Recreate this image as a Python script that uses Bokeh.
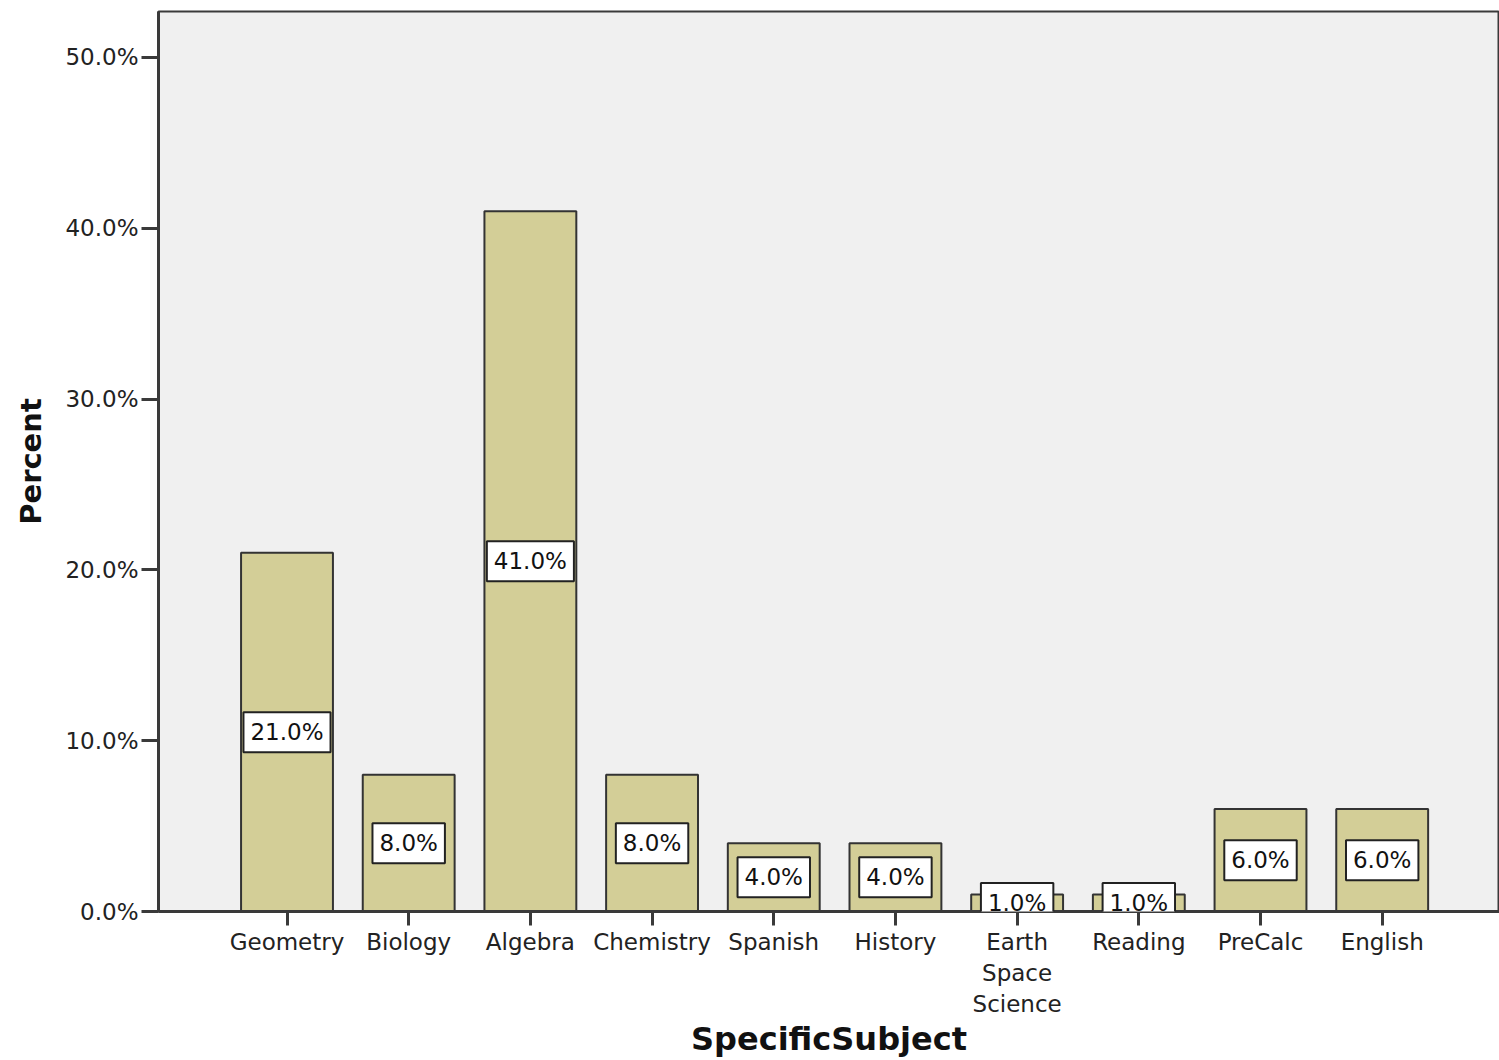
from bokeh.plotting import figure
from bokeh.models import Range1d, FixedTicker, PrintfTickFormatter, Label, ColumnDataSource
from bokeh.embed import file_html
from bokeh.resources import INLINE

subjects = ["Geometry", "Biology", "Algebra", "Chemistry", "Spanish", "History",
            "Earth\nSpace\nScience", "Reading", "PreCalc", "English"]
percents = [21.0, 8.0, 41.0, 8.0, 4.0, 4.0, 1.0, 1.0, 6.0, 6.0]
y_ticks = [0, 10, 20, 30, 40, 50]
x_title = "SpecificSubject"
y_title = "Percent"

xs = list(range(len(subjects)))
src = ColumnDataSource(dict(x=xs, top=percents))

FONT = "DejaVu Sans"
p = figure(width=1499, height=1060, output_backend="svg", toolbar_location=None,
           x_range=Range1d(-1.056, 9.964), y_range=Range1d(0, 52.69),
           min_border_left=158, min_border_right=0, min_border_top=11,
           min_border_bottom=148)
p.background_fill_color = "#F0F0F0"
p.border_fill_color = "white"
p.outline_line_color = "#3A3A3A"
p.outline_line_width = 2
p.grid.visible = False

p.vbar(x="x", top="top", bottom=0, width=0.755, source=src,
       fill_color="#D3CE97", line_color="#333333", line_width=2)

for xi, v in zip(xs, percents):
    p.add_layout(Label(x=xi, y=v / 2, text=f"{v:.1f}%", text_align="center",
                       text_baseline="middle", text_font=FONT, text_font_size="23px",
                       text_color="#111111", background_fill_color="white",
                       border_line_color="#222222", border_line_width=2, padding=7))

# X axis
xa = p.xaxis[0]
xa.ticker = FixedTicker(ticks=xs)
xa.major_label_overrides = {i: s for i, s in enumerate(subjects)}
xa.minor_tick_line_color = None
xa.major_tick_out = 14
xa.major_tick_in = 0
xa.major_tick_line_width = 3
xa.major_tick_line_color = "#3A3A3A"
xa.axis_line_width = 3
xa.axis_line_color = "#3A3A3A"
xa.major_label_text_font = FONT
xa.major_label_text_font_size = "23px"
xa.major_label_text_color = "#222222"
xa.major_label_standoff = 3
xa.axis_label = x_title
xa.axis_label_text_font = FONT
xa.axis_label_text_font_style = "bold"
xa.axis_label_text_font_size = "32px"
xa.axis_label_text_color = "#111111"
xa.axis_label_standoff = 0

# Y axis
ya = p.yaxis[0]
ya.ticker = FixedTicker(ticks=y_ticks)
ya.formatter = PrintfTickFormatter(format="%.1f%%")
ya.minor_tick_line_color = None
ya.major_tick_out = 17
ya.major_tick_in = 0
ya.major_tick_line_width = 3
ya.major_tick_line_color = "#3A3A3A"
ya.axis_line_width = 3
ya.axis_line_color = "#3A3A3A"
ya.major_label_text_font = FONT
ya.major_label_text_font_size = "23px"
ya.major_label_text_color = "#222222"
ya.major_label_standoff = 3
ya.axis_label = y_title
ya.axis_label_text_font = FONT
ya.axis_label_text_font_style = "bold"
ya.axis_label_text_font_size = "29px"
ya.axis_label_text_color = "#111111"
ya.axis_label_standoff = 14

open("out.html", "w").write(file_html(p, INLINE))
